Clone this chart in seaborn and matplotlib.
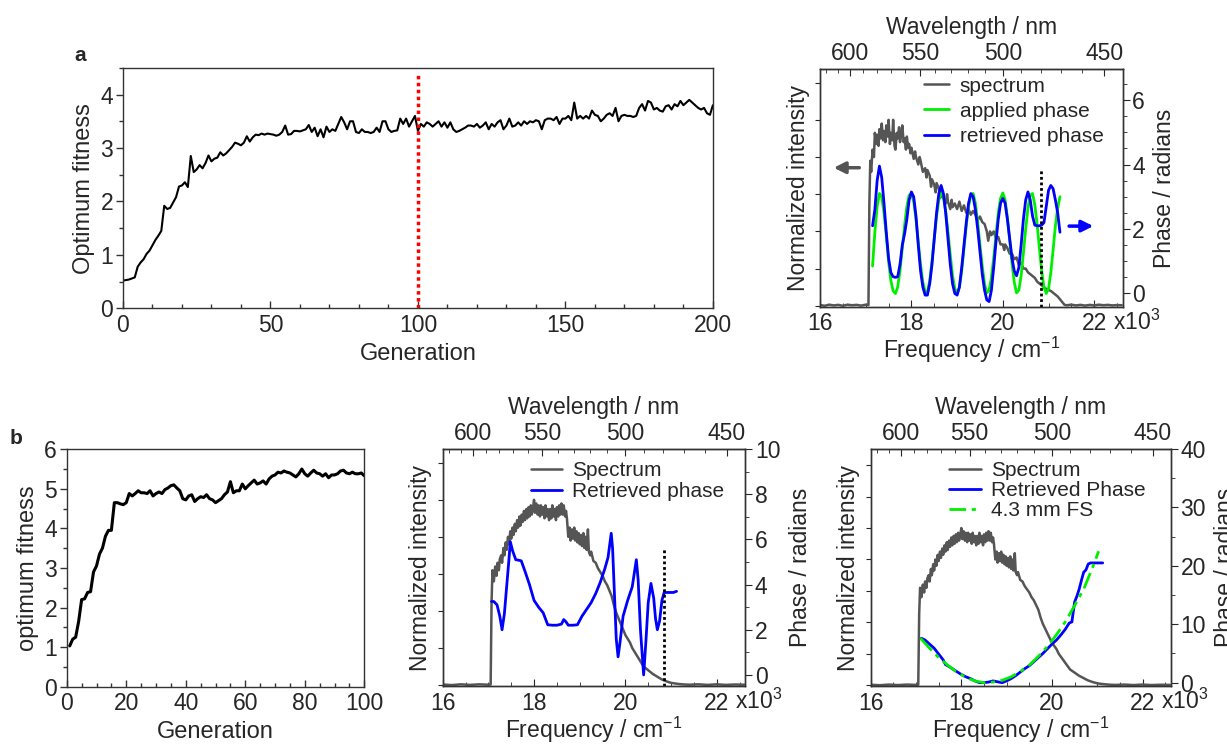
import numpy as np
import pandas as pd
import seaborn as sns
import matplotlib.pyplot as plt
from matplotlib.ticker import MultipleLocator, FixedLocator

sns.set_style("ticks")
plt.rcParams["font.family"] = ["Liberation Sans", "DejaVu Sans"]
plt.rcParams["mathtext.default"] = "regular"

# ---- panel a (left): optimum fitness per generation, 0..200
fit_a = [
    0.52, 0.53, 0.54, 0.56, 0.58, 0.78, 0.86, 0.92, 1.02, 1.08, 1.18, 1.28, 1.36, 1.45, 1.92, 1.86, 1.88, 1.98, 2.08, 2.28,
    2.30, 2.36, 2.27, 2.85, 2.55, 2.60, 2.68, 2.62, 2.72, 2.86, 2.75, 2.80, 2.82, 2.92, 2.86, 2.90, 2.96, 3.02, 3.10, 3.08,
    3.05, 3.10, 3.22, 3.12, 3.20, 3.25, 3.24, 3.27, 3.25, 3.27, 3.26, 3.25, 3.23, 3.25, 3.30, 3.42, 3.25, 3.26, 3.32, 3.32,
    3.31, 3.33, 3.35, 3.43, 3.30, 3.38, 3.22, 3.35, 3.20, 3.40, 3.30, 3.35, 3.32, 3.45, 3.58, 3.48, 3.35, 3.50, 3.50, 3.30,
    3.28, 3.35, 3.30, 3.30, 3.28, 3.30, 3.38, 3.30, 3.50, 3.50, 3.35, 3.30, 3.32, 3.33, 3.55, 3.45, 3.55, 3.40, 3.50, 3.60,
    3.32, 3.45, 3.40, 3.48, 3.45, 3.40, 3.45, 3.50, 3.40, 3.48, 3.38, 3.48, 3.35, 3.30, 3.32, 3.35, 3.38, 3.42, 3.42, 3.40,
    3.45, 3.38, 3.42, 3.48, 3.35, 3.45, 3.40, 3.48, 3.52, 3.35, 3.42, 3.55, 3.40, 3.42, 3.48, 3.42, 3.50, 3.45, 3.50, 3.48,
    3.52, 3.50, 3.35, 3.52, 3.55, 3.55, 3.52, 3.58, 3.45, 3.55, 3.55, 3.60, 3.52, 3.85, 3.55, 3.60, 3.55, 3.60, 3.55, 3.70,
    3.62, 3.60, 3.50, 3.55, 3.62, 3.65, 3.60, 3.75, 3.50, 3.60, 3.62, 3.60, 3.60, 3.58, 3.60, 3.75, 3.82, 3.70, 3.88, 3.85,
    3.72, 3.75, 3.70, 3.68, 3.78, 3.80, 3.72, 3.82, 3.78, 3.88, 3.80, 3.85, 3.90, 3.85, 3.80, 3.75, 3.72, 3.75, 3.65, 3.62,
    3.80,
]
switch_gen = 100

# ---- panel b (left): optimum fitness, generations 1..100
fit_b = [
    1.03, 1.20, 1.25, 1.65, 2.20, 2.22, 2.38, 2.40, 2.90, 3.05, 3.35, 3.50, 3.80, 3.95, 3.95, 4.65, 4.65, 4.62, 4.60, 4.65,
    4.88, 4.82, 4.88, 4.95, 4.90, 4.90, 4.88, 4.95, 4.82, 4.88, 4.92, 4.88, 4.98, 5.02, 5.08, 5.10, 5.02, 4.95, 4.75, 4.72,
    4.82, 4.85, 4.68, 4.75, 4.80, 4.78, 4.85, 4.75, 4.72, 4.65, 4.70, 4.75, 4.85, 4.92, 5.18, 4.90, 4.95, 4.95, 5.12, 5.00,
    5.08, 5.15, 5.22, 5.12, 5.15, 5.20, 5.12, 5.25, 5.32, 5.35, 5.42, 5.40, 5.45, 5.42, 5.40, 5.35, 5.30, 5.38, 5.50, 5.38,
    5.32, 5.40, 5.47, 5.40, 5.38, 5.32, 5.38, 5.28, 5.35, 5.35, 5.38, 5.45, 5.47, 5.40, 5.38, 5.42, 5.38, 5.38, 5.40, 5.33,
]

# ---- panel a (right): spectrum, frequency in 10^3 cm^-1
spec_a_freq = [
    16.00, 16.10, 16.20, 16.30, 16.40, 16.50, 16.60, 16.70, 16.80, 16.90, 17.00, 17.06,
    17.08, 17.10, 17.12, 17.15, 17.18, 17.20, 17.23, 17.25, 17.28, 17.30, 17.33, 17.35, 17.38, 17.40,
    17.43, 17.45, 17.48, 17.50, 17.53, 17.55, 17.58, 17.60, 17.63, 17.65, 17.68, 17.70, 17.73, 17.75,
    17.78, 17.80, 17.83, 17.85, 17.88, 17.90, 17.93, 17.95, 17.98, 18.00, 18.05, 18.08, 18.10, 18.15,
    18.18, 18.20, 18.25, 18.30, 18.33, 18.35, 18.40, 18.43, 18.45, 18.50, 18.53, 18.55, 18.60, 18.63,
    18.65, 18.70, 18.75, 18.78, 18.80, 18.85, 18.88, 18.90, 18.95, 19.00, 19.05, 19.10, 19.15, 19.20,
    19.25, 19.30, 19.35, 19.40, 19.45, 19.50, 19.55, 19.60, 19.65, 19.68, 19.72, 19.75, 19.80, 19.85,
    19.90, 19.95, 20.00, 20.03, 20.05, 20.10, 20.15, 20.20, 20.25, 20.30, 20.35, 20.40, 20.45, 20.50,
    20.55, 20.60, 20.65, 20.70, 20.75, 20.80, 20.85, 20.90, 20.95, 21.00, 21.05, 21.10, 21.15, 21.20,
    21.25, 21.30, 21.35, 21.40, 21.50, 21.60, 21.70, 21.80, 21.90, 22.00, 22.10, 22.20, 22.30, 22.40,
    22.50, 22.60,
]
spec_a_int = [
    0.004, 0.000, 0.006, 0.002, 0.005, 0.000, 0.006, 0.003, 0.005, 0.001, 0.006, 0.004,
    0.55, 0.78, 0.72, 0.84, 0.80, 0.93, 0.87, 0.92, 0.86, 0.95, 0.90, 0.98, 0.89, 0.94,
    0.88, 0.97, 0.91, 1.00, 0.87, 0.93, 0.89, 1.00, 0.86, 0.84, 0.93, 0.90, 0.96, 0.88,
    0.92, 0.97, 0.88, 0.90, 0.84, 0.91, 0.85, 0.87, 0.82, 0.85, 0.79, 0.83, 0.80, 0.76,
    0.80, 0.78, 0.72, 0.74, 0.69, 0.73, 0.70, 0.64, 0.68, 0.65, 0.61, 0.66, 0.63, 0.58,
    0.62, 0.58, 0.55, 0.60, 0.56, 0.52, 0.57, 0.53, 0.55, 0.52, 0.56, 0.51, 0.54, 0.50,
    0.52, 0.49, 0.51, 0.49, 0.46, 0.48, 0.45, 0.44, 0.40, 0.35, 0.40, 0.38, 0.40, 0.36,
    0.37, 0.33, 0.33, 0.30, 0.33, 0.31, 0.28, 0.28, 0.25, 0.26, 0.22, 0.23, 0.20, 0.20,
    0.18, 0.17, 0.16, 0.15, 0.13, 0.12, 0.11, 0.10, 0.09, 0.085, 0.08, 0.07, 0.06, 0.05,
    0.035, 0.02, 0.005, 0.003, 0.006, 0.002, 0.005, 0.001, 0.005, 0.002, 0.006, 0.003, 0.005, 0.002,
    0.004, 0.003,
]

# applied (green) and retrieved (blue) phase, radians
phase_a_freq = [
    17.15, 17.20, 17.25, 17.30, 17.35, 17.40, 17.45, 17.50, 17.55, 17.60, 17.65, 17.70, 17.75, 17.80,
    17.85, 17.90, 17.95, 18.00, 18.05, 18.10, 18.15, 18.20, 18.25, 18.30, 18.35, 18.40, 18.45, 18.50,
    18.55, 18.60, 18.65, 18.70, 18.75, 18.80, 18.85, 18.90, 18.95, 19.00, 19.05, 19.10, 19.15, 19.20,
    19.25, 19.30, 19.35, 19.40, 19.45, 19.50, 19.55, 19.60, 19.65, 19.70, 19.75, 19.80, 19.85, 19.90,
    19.95, 20.00, 20.05, 20.10, 20.15, 20.20, 20.25, 20.30, 20.35, 20.40, 20.45, 20.50, 20.55, 20.60,
    20.65, 20.70, 20.75, 20.80, 20.85, 20.90, 20.95, 21.00, 21.05, 21.10, 21.15, 21.20, 21.25,
]
applied_a = [
    0.85, 1.90, 2.70, 3.10, 3.00, 2.50, 1.80, 1.00, 0.40, 0.08, 0.00, 0.20, 0.70, 1.40,
    2.10, 2.70, 3.05, 3.10, 2.85, 2.30, 1.60, 0.90, 0.35, 0.05, 0.05, 0.40, 1.00, 1.70,
    2.40, 2.90, 3.12, 3.00, 2.55, 1.90, 1.20, 0.55, 0.15, 0.00, 0.20, 0.70, 1.40, 2.10,
    2.70, 3.05, 3.10, 2.80, 2.20, 1.50, 0.85, 0.30, 0.02, 0.10, 0.50, 1.10, 1.80, 2.50,
    2.95, 3.12, 2.90, 2.35, 1.65, 0.95, 0.35, 0.02, 0.10, 0.55, 1.25, 2.00, 2.65, 3.05,
    3.10, 2.75, 2.15, 1.40, 0.70, 0.20, 0.00, 0.15, 0.65, 1.35, 2.10, 2.65, 3.00,
]
retrieved_a = [
    2.10, 2.60, 3.50, 3.95, 3.60, 2.80, 1.90, 1.10, 0.65, 0.52, 0.50, 0.52, 0.90, 1.50,
    1.85, 2.30, 2.90, 3.15, 3.00, 2.40, 1.50, 0.70, 0.20, -0.05, -0.05, 0.30, 0.90, 1.70,
    2.50, 3.10, 3.35, 3.10, 2.50, 1.70, 0.90, 0.30, 0.00, -0.05, 0.20, 0.80, 1.50, 2.20,
    2.80, 3.10, 3.00, 2.60, 2.00, 1.30, 0.60, 0.10, -0.20, -0.25, 0.10, 0.80, 1.60, 2.30,
    2.80, 2.95, 2.80, 2.30, 1.70, 1.10, 0.70, 0.55, 0.80, 1.50, 2.30, 2.90, 3.15, 2.90,
    2.40, 2.12, 2.10, 2.10, 2.12, 2.20, 2.70, 3.20, 3.35, 3.25, 2.90, 2.50, 1.90,
]
cutoff_a = 20.83
cutoff_a_top = 3.85
arrow_left = (16.86, 16.30, 3.9)     # from, to, phase level
arrow_right = (21.45, 21.98, 2.09)

# ---- panel b (middle / right): spectrum shared by both
spec_b_freq = [
    16.00, 16.20, 16.40, 16.60, 16.80, 17.00, 17.05,
    17.07, 17.09, 17.12, 17.15, 17.18, 17.20, 17.23, 17.25, 17.28, 17.30, 17.33, 17.35, 17.38, 17.40,
    17.43, 17.45, 17.48, 17.50, 17.53, 17.55, 17.58, 17.60, 17.63, 17.65, 17.68, 17.70, 17.73, 17.75,
    17.78, 17.80, 17.83, 17.85, 17.88, 17.90, 17.93, 17.95, 17.98, 18.00, 18.02, 18.05, 18.08, 18.10,
    18.13, 18.15, 18.18, 18.20, 18.23, 18.25, 18.28, 18.30, 18.33, 18.35, 18.38, 18.40, 18.43, 18.45,
    18.48, 18.50, 18.53, 18.55, 18.58, 18.60, 18.63, 18.65, 18.68, 18.70, 18.72, 18.75, 18.78, 18.80,
    18.83, 18.85, 18.88, 18.90, 18.93, 18.95, 18.98, 19.00, 19.03, 19.05, 19.08, 19.10, 19.13, 19.15,
    19.18, 19.20, 19.23, 19.25, 19.30, 19.35, 19.40, 19.45, 19.50, 19.55, 19.60, 19.65, 19.70, 19.75,
    19.80, 19.85, 19.90, 19.95, 20.00, 20.05, 20.10, 20.15, 20.20, 20.25, 20.30, 20.35, 20.40, 20.45,
    20.50, 20.60, 20.70, 20.80, 20.90, 21.00, 21.10, 21.20, 21.30, 21.40, 21.60, 21.80, 22.00, 22.20,
    22.40, 22.60,
]
spec_b_int = [
    0.003, 0.000, 0.004, 0.001, 0.004, 0.002, 0.003,
    0.45, 0.62, 0.56, 0.64, 0.59, 0.66, 0.62, 0.68, 0.70, 0.66, 0.74, 0.70, 0.77, 0.73,
    0.80, 0.76, 0.83, 0.79, 0.85, 0.81, 0.87, 0.83, 0.89, 0.85, 0.91, 0.86, 0.92, 0.88,
    0.94, 0.89, 0.95, 0.90, 0.96, 0.91, 0.97, 0.92, 0.96, 1.00, 0.93, 0.98, 0.92, 0.97,
    0.91, 0.97, 0.92, 0.96, 0.90, 0.97, 0.91, 0.95, 0.89, 0.95, 0.90, 0.97, 0.91, 0.95,
    0.89, 0.96, 0.91, 0.97, 0.92, 0.98, 0.92, 0.97, 0.91, 0.94, 0.90, 0.80, 0.85, 0.78,
    0.84, 0.79, 0.85, 0.78, 0.83, 0.77, 0.82, 0.76, 0.81, 0.75, 0.82, 0.74, 0.80, 0.73,
    0.84, 0.72, 0.70, 0.72, 0.67, 0.66, 0.63, 0.61, 0.59, 0.56, 0.54, 0.51, 0.48, 0.43,
    0.39, 0.36, 0.33, 0.30, 0.27, 0.25, 0.23, 0.20, 0.18, 0.16, 0.14, 0.12, 0.10, 0.09,
    0.08, 0.06, 0.045, 0.03, 0.02, 0.012, 0.008, 0.005, 0.003, 0.002, 0.004, 0.001, 0.004, 0.001,
    0.003, 0.002,
]

# retrieved phase, panel b middle
phase_bm_freq = [
    17.07, 17.12, 17.19, 17.25, 17.30, 17.35, 17.40, 17.45, 17.48, 17.53, 17.60, 17.66, 17.72, 17.80,
    17.90, 18.00, 18.10, 18.20, 18.30, 18.40, 18.50, 18.60, 18.65, 18.70, 18.75, 18.85, 18.95, 19.05,
    19.15, 19.25, 19.35, 19.45, 19.55, 19.62, 19.69, 19.72, 19.76, 19.80, 19.84, 19.88, 19.95, 20.05,
    20.15, 20.24, 20.28, 20.33, 20.40, 20.45, 20.50, 20.56, 20.62, 20.66, 20.70, 20.75, 20.80, 20.85,
    20.95, 21.05, 21.12,
]
phase_bm = [
    3.25, 3.25, 3.10, 2.60, 2.00, 2.70, 3.90, 5.10, 5.90, 5.50, 5.10, 5.08, 5.05, 4.60,
    4.00, 3.30, 3.00, 2.75, 2.22, 2.20, 2.20, 2.25, 2.45, 2.35, 2.20, 2.20, 2.22, 2.60,
    2.90, 3.20, 3.60, 4.10, 4.70, 5.20, 6.27, 5.60, 3.60, 1.60, 0.80, 1.40, 2.60, 3.30,
    3.90, 5.10, 4.20, 2.00, 0.00, 1.50, 3.20, 4.05, 3.40, 2.50, 2.00, 2.40, 3.30, 3.65,
    3.65, 3.65, 3.70,
]
cutoff_bm = 20.85
cutoff_bm_top = 5.6

# retrieved phase and 4.3 mm fused silica phase, panel b right
phase_br_freq = [
    17.12, 17.20, 17.30, 17.40, 17.50, 17.60, 17.65, 17.70, 17.80, 17.90, 18.00, 18.10, 18.20, 18.30,
    18.40, 18.50, 18.60, 18.70, 18.80, 18.90, 19.00, 19.10, 19.20, 19.30, 19.40, 19.50, 19.60, 19.70,
    19.80, 19.90, 20.00, 20.10, 20.20, 20.30, 20.38, 20.44, 20.50, 20.55, 20.60, 20.65, 20.70, 20.75,
    20.80, 20.85, 21.00, 21.12,
]
phase_br = [
    7.6, 7.3, 6.6, 5.9, 4.9, 3.9, 3.1, 2.9, 2.4, 1.9, 1.4, 1.0, 0.7, 0.3,
    0.0, 0.0, 0.1, 0.3, 0.15, 0.0, 0.3, 0.7, 1.2, 1.8, 2.4, 2.9, 3.6, 4.3,
    5.0, 5.8, 6.6, 7.3, 8.2, 9.2, 10.2, 10.4, 13.8, 14.8, 16.0, 17.5, 18.9, 19.3,
    20.3, 20.5, 20.5, 20.5,
]
fs_freq = [17.10, 17.30, 17.50, 17.70, 17.90, 18.10, 18.30, 18.50, 18.70, 18.90, 19.10,
           19.30, 19.50, 19.70, 19.90, 20.10, 20.30, 20.50, 20.70, 20.90, 21.03]
fs_phase = [7.6, 5.9, 4.3, 3.0, 1.8, 0.9, 0.3, 0.0, 0.1, 0.4, 1.0,
            1.9, 3.0, 4.5, 6.2, 8.2, 10.5, 13.2, 16.0, 19.8, 22.5]

GRAY = "#555555"
BLUE = "#0000ff"
GREEN = "#00ee00"
TICK_FS = 16.5
LABEL_FS = 16.5
FIT_LABEL_FS = 17
LEG_FS = 15


def f2w(f):
    f = np.asarray(f, dtype=float)
    with np.errstate(divide="ignore"):
        return 1e4 / f


def style_fitness(ax, xmaj, xmin, ymaj, ymin, xlim, ylim, ylabel):
    ax.set_xlim(*xlim)
    ax.set_ylim(*ylim)
    ax.xaxis.set_major_locator(MultipleLocator(xmaj))
    ax.xaxis.set_minor_locator(MultipleLocator(xmin))
    ax.yaxis.set_major_locator(MultipleLocator(ymaj))
    ax.yaxis.set_minor_locator(MultipleLocator(ymin))
    ax.tick_params(axis="x", which="both", direction="in", top=False, labelsize=TICK_FS, pad=4)
    ax.tick_params(axis="y", which="both", direction="out", right=False, labelsize=TICK_FS, pad=2)
    ax.tick_params(which="major", length=5, width=1, color="#333333")
    ax.tick_params(which="minor", length=3, width=1, color="#333333")
    ax.set_xlabel("Generation", fontsize=FIT_LABEL_FS, labelpad=4)
    ax.set_ylabel(ylabel, fontsize=FIT_LABEL_FS, labelpad=4)
    for s in ax.spines.values():
        s.set_visible(True)
        s.set_color("#333333")
        s.set_linewidth(1)


def spectrum_panel(fig, rect, spec_x, spec_y, spec_top, pmaj, pmin, plim):
    ax = fig.add_axes(rect)
    sns.lineplot(x=spec_x, y=spec_y, ax=ax, color=GRAY, lw=1.8)
    ax.set_xlim(16, 22.62)
    ax.set_ylim(-0.005, spec_top)
    ax.xaxis.set_major_locator(MultipleLocator(2))
    ax.xaxis.set_minor_locator(MultipleLocator(0.5))
    ax.tick_params(axis="x", which="both", direction="in", top=False, labelsize=TICK_FS, pad=4)
    ax.tick_params(axis="x", which="major", length=5)
    ax.tick_params(axis="x", which="minor", length=3)
    ax.tick_params(axis="y", left=False, labelleft=False)
    ax.set_ylabel("Normalized intensity", fontsize=LABEL_FS, labelpad=4)
    ax.set_xlabel("Frequency / cm$^{-1}$", fontsize=LABEL_FS, labelpad=0)
    ax.annotate("x10$^3$", xy=(1, 0), xycoords="axes fraction", xytext=(-7, -16.5),
                textcoords="offset points", ha="left", va="baseline", fontsize=TICK_FS)

    top = ax.secondary_xaxis("top", functions=(f2w, f2w))
    top.xaxis.set_major_locator(FixedLocator([600, 550, 500, 450]))
    top.xaxis.set_minor_locator(FixedLocator(list(range(450, 630, 10))))
    top.tick_params(which="both", direction="in", labelsize=TICK_FS, pad=3)
    top.tick_params(which="major", length=5)
    top.tick_params(which="minor", length=3)
    top.set_xlabel("Wavelength / nm", fontsize=LABEL_FS, labelpad=6)

    axp = ax.twinx()
    axp.set_ylim(*plim)
    axp.yaxis.set_major_locator(MultipleLocator(pmaj))
    axp.yaxis.set_minor_locator(MultipleLocator(pmin))
    axp.tick_params(axis="y", which="both", direction="out", labelsize=TICK_FS, pad=2)
    axp.tick_params(axis="y", which="major", length=5)
    axp.tick_params(axis="y", which="minor", length=3)
    axp.set_ylabel("Phase / radians", fontsize=LABEL_FS, labelpad=6)
    for a in (ax, axp):
        for s in a.spines.values():
            s.set_color("#333333")
            s.set_linewidth(1)
    return ax, axp


fig = plt.figure(figsize=(12.27, 7.45), dpi=100)

# ---------------- panel a, left
ax1 = fig.add_axes([0.1002, 0.5860, 0.4808, 0.3230])
sns.lineplot(x=np.arange(len(fit_a)), y=fit_a, ax=ax1, color="black", lw=1.5)
ax1.axvline(switch_gen, ymin=0, ymax=0.98, color="red", ls=(0, (1, 1)), lw=2.5)
style_fitness(ax1, 50, 10, 1, 0.5, (0, 200), (0, 4.5), "Optimum fitness")

# ---------------- panel a, right
ax2, ax2p = spectrum_panel(fig, [0.6683, 0.5883, 0.2466, 0.3190],
                           spec_a_freq, spec_a_int, 1.273, 2, 0.5, (-0.41, 6.96))
h_spec = ax2.get_lines()[0]
sns.lineplot(x=phase_a_freq, y=applied_a, ax=ax2p, color=GREEN, lw=2.0)
sns.lineplot(x=phase_a_freq, y=retrieved_a, ax=ax2p, color=BLUE, lw=2.0)
ax2p.vlines(cutoff_a, -0.41, cutoff_a_top, colors="black", linestyles=(0, (1, 1)), lw=2)
ax2p.annotate("", xy=(arrow_left[1], arrow_left[2]), xytext=(arrow_left[0], arrow_left[2]),
              arrowprops=dict(arrowstyle="-|>", color=GRAY, lw=2.5, mutation_scale=17,
                              shrinkA=0, shrinkB=0))
ax2p.annotate("", xy=(arrow_right[1], arrow_right[2]), xytext=(arrow_right[0], arrow_right[2]),
              arrowprops=dict(arrowstyle="-|>", color=BLUE, lw=2.5, mutation_scale=17,
                              shrinkA=0, shrinkB=0))
lines = ax2p.get_lines()
ax2p.legend([h_spec, lines[0], lines[1]], ["spectrum", "applied phase", "retrieved phase"],
            loc="upper right", bbox_to_anchor=(0.985, 1.03), frameon=False, fontsize=LEG_FS,
            handlelength=1.2, handletextpad=0.5, labelspacing=0.3, borderaxespad=0.3)

# ---------------- panel b, left
ax3 = fig.add_axes([0.0544, 0.0783, 0.2425, 0.3187])
sns.lineplot(x=np.arange(1, len(fit_b) + 1), y=fit_b, ax=ax3, color="black", lw=2.2)
style_fitness(ax3, 20, 5, 1, 0.5, (0, 100), (0, 6), "optimum fitness")

# ---------------- panel b, middle
ax4, ax4p = spectrum_panel(fig, [0.3608, 0.0792, 0.2464, 0.3181],
                           spec_b_freq, spec_b_int, 1.274, 2, 1, (-0.49, 10))
h_spec4 = ax4.get_lines()[0]
sns.lineplot(x=phase_bm_freq, y=phase_bm, ax=ax4p, color=BLUE, lw=2.0)
ax4p.vlines(cutoff_bm, -0.49, cutoff_bm_top, colors="black", linestyles=(0, (1, 1)), lw=2)
ax4p.legend([h_spec4, ax4p.get_lines()[0]], ["Spectrum", "Retrieved phase"],
            loc="upper right", bbox_to_anchor=(0.98, 1.01), frameon=False, fontsize=LEG_FS,
            handlelength=1.5, handletextpad=0.5, labelspacing=0.1, borderaxespad=0.3)

# ---------------- panel b, right
ax5, ax5p = spectrum_panel(fig, [0.7096, 0.0792, 0.2445, 0.3181],
                           spec_b_freq, spec_b_int, 1.503, 10, 5, (-0.57, 40))
h_spec5 = ax5.get_lines()[0]
sns.lineplot(x=phase_br_freq, y=phase_br, ax=ax5p, color=BLUE, lw=2.0)
sns.lineplot(x=fs_freq, y=fs_phase, ax=ax5p, color=GREEN, lw=2.0, linestyle=(0, (6, 2, 1.5, 2)))
l5 = ax5p.get_lines()
ax5p.legend([h_spec5, l5[0], l5[1]], ["Spectrum", "Retrieved Phase", "4.3 mm FS"],
            loc="upper right", bbox_to_anchor=(0.965, 1.01), frameon=False, fontsize=LEG_FS,
            handlelength=1.5, handletextpad=0.5, labelspacing=0.05, borderaxespad=0.3)

fig.text(0.065, 0.926, "a", fontsize=15, fontweight="bold", ha="center", va="center")
fig.text(0.013, 0.412, "b", fontsize=15, fontweight="bold", ha="center", va="center")

fig.savefig("out.png", dpi=100)
